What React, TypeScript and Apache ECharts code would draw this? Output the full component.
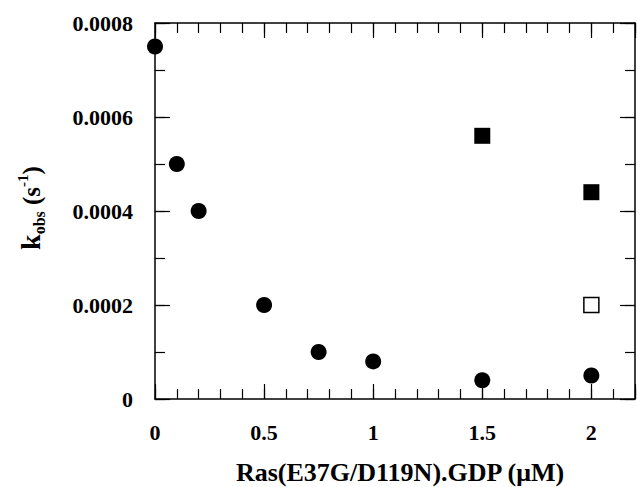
import React, { useEffect, useRef } from "react";
import * as echarts from "echarts";

const circleX = [0, 0.1, 0.2, 0.5, 0.75, 1.0, 1.5, 2.0];
const circleY = [0.00075, 0.0005, 0.0004, 0.0002, 0.0001, 0.00008, 0.00004, 0.00005];
const filledSquareX = [1.5, 2.0];
const filledSquareY = [0.00056, 0.00044];
const openSquareX = [2.0];
const openSquareY = [0.0002];
const xMajorTicks = [0, 0.5, 1, 1.5, 2];
const yMajorTicks = [0, 0.0002, 0.0004, 0.0006, 0.0008];
const xTitle = "Ras(E37G/D119N).GDP (\u03BCM)";

const FONT = "Liberation Serif";

function pairs(xs: number[], ys: number[]) {
  return xs.map((x, i) => [x, ys[i]]);
}

function near(v: number, list: number[], eps: number) {
  return list.some((t) => Math.abs(t - v) < eps);
}

export default function App() {
  const ref = useRef<HTMLDivElement>(null);
  useEffect(() => {
    if (!ref.current) return;
    const chart = echarts.init(ref.current, null, { renderer: "svg" });
    const lineStyle = { color: "#000", width: 1.5 };
    const tickStyle = { color: "#000", width: 1.2 };
    const xBase = { type: "value", gridIndex: 0, min: 0, max: 2.2, splitLine: { show: false } };
    const yBase = { type: "value", gridIndex: 0, min: 0, max: 0.0008, splitLine: { show: false } };
    const option: any = {
      animation: false,
      backgroundColor: "#fff",
      textStyle: { fontFamily: FONT },
      grid: { left: 155, top: 23, right: -6.4, bottom: 88, containLabel: false },
      xAxis: [
        {
          ...xBase,
          position: "bottom",
          interval: 0.5,
          axisLine: { show: true, onZero: false, lineStyle },
          axisTick: { show: true, inside: true, length: 15, lineStyle: tickStyle },
          axisLabel: {
            show: true,
            margin: 22,
            color: "#000",
            fontFamily: FONT,
            fontWeight: "bold",
            fontSize: 22,
            formatter: (v: number) => (near(v, xMajorTicks, 1e-6) ? String(+v.toFixed(1)) : ""),
          },
        },
        {
          ...xBase,
          position: "bottom",
          interval: 0.1,
          axisLine: { show: false, onZero: false },
          axisTick: { show: true, inside: true, length: 10, lineStyle: tickStyle },
          axisLabel: { show: false },
        },
        {
          ...xBase,
          position: "top",
          interval: 0.5,
          axisLine: { show: true, onZero: false, lineStyle },
          axisTick: { show: true, inside: true, length: 15, lineStyle: tickStyle },
          axisLabel: { show: false },
        },
        {
          ...xBase,
          position: "top",
          interval: 0.1,
          axisLine: { show: false, onZero: false },
          axisTick: { show: true, inside: true, length: 10, lineStyle: tickStyle },
          axisLabel: { show: false },
        },
      ],
      yAxis: [
        {
          ...yBase,
          position: "left",
          interval: 0.0002,
          axisLine: { show: true, onZero: false, lineStyle },
          axisTick: { show: true, inside: true, length: 15, lineStyle: tickStyle },
          axisLabel: {
            show: true,
            margin: 22,
            color: "#000",
            fontFamily: FONT,
            fontWeight: "bold",
            fontSize: 22,
            formatter: (v: number) =>
              near(v, yMajorTicks, 1e-9) ? (Math.abs(v) < 1e-12 ? "0" : v.toFixed(4)) : "",
          },
        },
        {
          ...yBase,
          position: "left",
          interval: 0.0001,
          axisLine: { show: false, onZero: false },
          axisTick: { show: true, inside: true, length: 10, lineStyle: tickStyle },
          axisLabel: { show: false },
        },
        {
          ...yBase,
          position: "right",
          interval: 0.0002,
          axisLine: { show: true, onZero: false, lineStyle },
          axisTick: { show: true, inside: true, length: 15, lineStyle: tickStyle },
          axisLabel: { show: false },
        },
        {
          ...yBase,
          position: "right",
          interval: 0.0001,
          axisLine: { show: false, onZero: false },
          axisTick: { show: true, inside: true, length: 10, lineStyle: tickStyle },
          axisLabel: { show: false },
        },
      ],
      graphic: [
        {
          type: "text",
          x: 28,
          y: 208,
          rotation: Math.PI / 2,
          style: {
            text: "{k|k}{sub|obs}{p| (s}{sup|-1}{p|)}",
            align: "center",
            verticalAlign: "middle",
            fill: "#000",
            rich: {
              k: { fontSize: 28, fontWeight: "bold", fontFamily: FONT, lineHeight: 32, verticalAlign: "bottom" },
              p: { fontSize: 25, fontWeight: "bold", fontFamily: FONT, lineHeight: 32, verticalAlign: "bottom" },
              sub: { fontSize: 16, fontWeight: "bold", fontFamily: FONT, lineHeight: 16, verticalAlign: "bottom", padding: [0, 0, -3, 0] },
              sup: { fontSize: 15, fontWeight: "bold", fontFamily: FONT, lineHeight: 15, verticalAlign: "top", padding: [3, 0, 0, 0] },
            },
          },
        },
        {
          type: "text",
          x: 400,
          y: 472,
          style: {
            text: xTitle,
            align: "center",
            verticalAlign: "middle",
            fill: "#000",
            fontSize: 26,
            fontWeight: "bold",
            fontFamily: FONT,
          },
        },
      ],
      series: [
        {
          type: "scatter",
          xAxisIndex: 0,
          yAxisIndex: 0,
          symbol: "circle",
          symbolSize: 16,
          itemStyle: { color: "#000", opacity: 1 },
          data: pairs(circleX, circleY),
          z: 5,
        },
        {
          type: "scatter",
          xAxisIndex: 0,
          yAxisIndex: 0,
          symbol: "rect",
          symbolSize: 16,
          itemStyle: { color: "#000", opacity: 1 },
          data: pairs(filledSquareX, filledSquareY),
          z: 5,
        },
        {
          type: "scatter",
          xAxisIndex: 0,
          yAxisIndex: 0,
          symbol: "rect",
          symbolSize: 15,
          itemStyle: { color: "#fff", borderColor: "#000", borderWidth: 1.5, opacity: 1 },
          data: pairs(openSquareX, openSquareY),
          z: 5,
        },
      ],
    };
    chart.setOption(option);
    return () => chart.dispose();
  }, []);
  return (
    <div
      ref={ref}
      style={{ position: "absolute", left: 0, top: 0, width: 638, height: 487, background: "#fff" }}
    />
  );
}
